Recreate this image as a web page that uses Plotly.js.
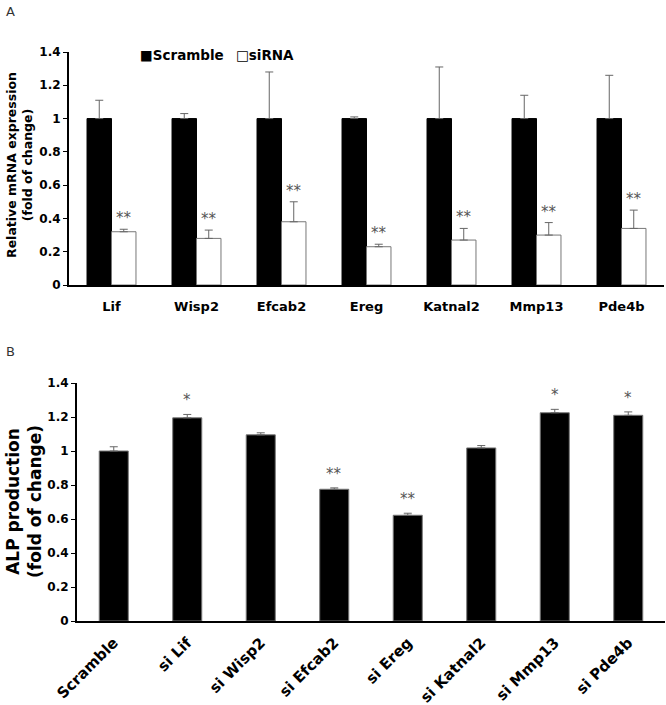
<!DOCTYPE html>
<html>
<head>
<meta charset="utf-8">
<script src="https://cdn.plot.ly/plotly-3.0.1.min.js"></script>
<style>html,body{margin:0;padding:0;background:#fff;}#chart{width:666px;height:705px;}</style>
</head>
<body>
<div id="chart"></div>
<script>
// ---- Panel A data ----
const genesA = ['Lif', 'Wisp2', 'Efcab2', 'Ereg', 'Katnal2', 'Mmp13', 'Pde4b'];
const seriesNamesA = ['Scramble', 'siRNA'];
const scrambleA = [1, 1, 1, 1, 1, 1, 1];
const scrambleErrA = [0.11, 0.03, 0.28, 0.01, 0.31, 0.14, 0.26];
const sirnaA = [0.32, 0.28, 0.38, 0.23, 0.27, 0.30, 0.34];
const sirnaErrA = [0.015, 0.05, 0.12, 0.015, 0.07, 0.075, 0.11];
const sigA = ['**', '**', '**', '**', '**', '**', '**'];

// ---- Panel B data ----
const groupsB = ['Scramble', 'si Lif', 'si Wisp2', 'si Efcab2', 'si Ereg', 'si Katnal2', 'si Mmp13', 'si Pde4b'];
const alpB = [1.0, 1.195, 1.095, 0.775, 0.622, 1.018, 1.225, 1.21];
const alpErrB = [0.025, 0.02, 0.012, 0.008, 0.012, 0.014, 0.02, 0.02];
const sigB = ['', '*', '', '**', '**', '', '*', '*'];

const yTicks = [0, 0.2, 0.4, 0.6, 0.8, 1, 1.2, 1.4];
const yTickText = ['0', '0.2', '0.4', '0.6', '0.8', '1', '1.2', '1.4'];

const FONT = 'DejaVu Sans';
const barW_A = 0.288;
const barW_B = 0.395;

const traces = [
  {
    type: 'bar', name: seriesNamesA[0], x: genesA, y: scrambleA,
    xaxis: 'x', yaxis: 'y', width: barW_A, offset: -barW_A,
    marker: {color: '#000', line: {color: '#000', width: 1}},
    error_y: {type: 'data', symmetric: false, array: scrambleErrA, arrayminus: scrambleA.map(() => 0),
              color: '#666', thickness: 1, width: 4}
  },
  {
    type: 'bar', name: seriesNamesA[1], x: genesA, y: sirnaA,
    xaxis: 'x', yaxis: 'y', width: barW_A, offset: 0,
    marker: {color: '#fff', line: {color: '#777', width: 1}},
    error_y: {type: 'data', symmetric: false, array: sirnaErrA, arrayminus: sirnaA.map(() => 0),
              color: '#666', thickness: 1, width: 4}
  },
  {
    type: 'bar', name: 'ALP', x: groupsB, y: alpB,
    xaxis: 'x2', yaxis: 'y2', width: barW_B,
    marker: {color: '#000', line: {color: '#777', width: 1}},
    error_y: {type: 'data', symmetric: false, array: alpErrB, arrayminus: alpB.map(() => 0),
              color: '#666', thickness: 1, width: 4}
  }
];

const annotations = [];
// significance marks panel A (above siRNA bars)
sigA.forEach((s, i) => {
  if (!s) return;
  annotations.push({
    xref: 'x', yref: 'y', x: i + barW_A / 2, y: sirnaA[i] + sirnaErrA[i],
    text: s, showarrow: false, xanchor: 'center', yanchor: 'bottom', yshift: 0,
    font: {family: FONT, size: 15, color: '#555'}
  });
});
// significance marks panel B
sigB.forEach((s, i) => {
  if (!s) return;
  annotations.push({
    xref: 'x2', yref: 'y2', x: i, y: alpB[i] + alpErrB[i],
    text: s, showarrow: false, xanchor: 'center', yanchor: 'bottom', yshift: 3,
    font: {family: FONT, size: 15, color: '#555'}
  });
});
// legend (panel A)
annotations.push({
  xref: 'paper', yref: 'paper', x: 138 / 666, y: 1 - 55 / 705, xanchor: 'left', yanchor: 'middle',
  text: '<b>■' + seriesNamesA[0] + '</b>', showarrow: false,
  font: {family: FONT, size: 13.5, color: '#000'}
});
annotations.push({
  xref: 'paper', yref: 'paper', x: 234 / 666, y: 1 - 55 / 705, xanchor: 'left', yanchor: 'middle',
  text: '<b>□' + seriesNamesA[1] + '</b>', showarrow: false,
  font: {family: FONT, size: 13.5, color: '#000'}
});
// axis titles
annotations.push({
  xref: 'paper', yref: 'paper', x: 19 / 666, y: 1 - 165 / 705, xanchor: 'center', yanchor: 'middle',
  textangle: -90, text: '<b>Relative mRNA expression<br>(fold of change)</b>', showarrow: false,
  font: {family: FONT, size: 12.5, color: '#000'}
});
annotations.push({
  xref: 'paper', yref: 'paper', x: 24 / 666, y: 1 - 502 / 705, xanchor: 'center', yanchor: 'middle',
  textangle: -90, text: '<b>ALP production<br>(fold of change)</b>', showarrow: false,
  font: {family: FONT, size: 17, color: '#000'}
});
// panel letters
annotations.push({
  xref: 'paper', yref: 'paper', x: 4 / 666, y: 1 - 2 / 705, xanchor: 'left', yanchor: 'top',
  text: 'A', showarrow: false, font: {family: FONT, size: 13, color: '#333'}
});
annotations.push({
  xref: 'paper', yref: 'paper', x: 4 / 666, y: 1 - 342 / 705, xanchor: 'left', yanchor: 'top',
  text: 'B', showarrow: false, font: {family: FONT, size: 13, color: '#333'}
});

const yAxisCommon = {
  range: [0, 1.4], tickvals: yTicks, ticktext: yTickText,
  showgrid: false, zeroline: false, showline: true, linecolor: '#000', linewidth: 2,
  ticks: 'outside', ticklen: 4, tickwidth: 1, tickcolor: '#000',
  tickfont: {family: FONT, size: 12, color: '#000', weight: 'bold'},
  automargin: false, fixedrange: true
};
const xAxisCommon = {
  type: 'category', showgrid: false, zeroline: false, showline: true, linecolor: '#000', linewidth: 2,
  ticks: '', automargin: false, fixedrange: true
};

const layout = {
  width: 666, height: 705,
  margin: {l: 0, r: 0, t: 0, b: 0},
  paper_bgcolor: '#fff', plot_bgcolor: '#fff',
  showlegend: false, barmode: 'overlay',
  font: {family: FONT, color: '#000'},
  xaxis: Object.assign({}, xAxisCommon, {
    domain: [69 / 666, 664 / 666], anchor: 'y', range: [-0.5, 6.5],
    tickfont: {family: FONT, size: 13, color: '#000', weight: 'bold'}, ticklabelstandoff: 8
  }),
  yaxis: Object.assign({}, yAxisCommon, {domain: [1 - 285 / 705, 1 - 52 / 705], anchor: 'x'}),
  xaxis2: Object.assign({}, xAxisCommon, {
    domain: [77 / 666, 665 / 666], anchor: 'y2', range: [-0.5, 7.5], tickangle: -45,
    tickfont: {family: FONT, size: 15, color: '#000', weight: 'bold'}, ticklabelstandoff: 5
  }),
  yaxis2: Object.assign({}, yAxisCommon, {domain: [1 - 621 / 705, 1 - 383 / 705], anchor: 'x2'}),
  annotations: annotations
};

Plotly.newPlot('chart', traces, layout, {staticPlot: true, displayModeBar: false});
</script>
</body>
</html>
